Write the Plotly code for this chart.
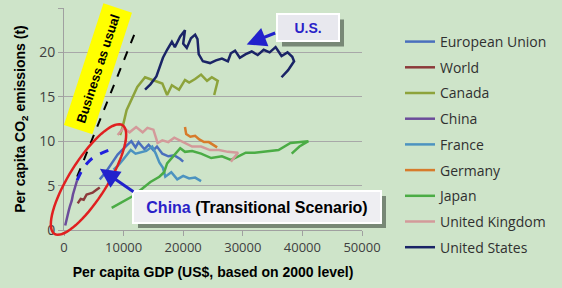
import plotly.graph_objects as go
import math

# ---------------- data ----------------
eu_x = [6000, 7000, 8000, 9000, 10500, 11300, 12000, 12500, 13500, 14200, 15000, 15600, 16500, 17500, 18500, 19500, 20000]
eu_y = [5.7, 6.5, 7.5, 8.5, 9.5, 10.0, 9.3, 9.9, 9.1, 9.6, 9.0, 9.4, 8.6, 8.3, 8.4, 8.0, 7.7]

world_x = [2300, 2800, 3300, 3800, 4300, 4800, 5400, 6000]
world_y = [3.0, 3.5, 3.4, 4.0, 4.1, 4.2, 4.5, 4.8]

canada_x = [9400, 9800, 10500, 11500, 12300, 13600, 14800, 15600, 16500, 17300, 18100, 19300, 20300, 21000, 22000, 23000, 24000, 24800, 25800, 25200]
canada_y = [10.7, 11.5, 13.5, 15.0, 16.1, 17.2, 16.9, 16.7, 16.5, 15.2, 16.3, 15.8, 16.9, 16.6, 17.0, 17.5, 16.8, 17.2, 16.8, 15.2]

china_x = [200, 500, 800, 1000, 1300, 1500, 1800, 2200]
china_y = [0.5, 1.5, 2.2, 2.7, 3.3, 4.0, 4.7, 5.6]

france_x = [8300, 9000, 10000, 11200, 12000, 13000, 13800, 14800, 15400, 16000, 16600, 17000, 18000, 19000, 20000, 21000, 22000, 23000]
france_y = [6.8, 7.2, 8.0, 9.0, 8.6, 8.8, 8.9, 9.4, 8.6, 7.6, 7.0, 6.0, 6.5, 5.7, 6.1, 5.8, 5.9, 5.5]

germany_x = [20300, 20500, 21200, 22000, 22700, 23500, 24300, 25000, 25700]
germany_y = [11.6, 10.8, 10.5, 10.6, 10.2, 9.9, 9.9, 9.6, 9.3]

japan_x = [8000, 10000, 11500, 13000, 14500, 16000, 16800, 17300, 18300, 19500, 20300, 21500, 23000, 24700, 26500, 28000, 29000, 30500, 32000, 34500, 36000, 38000, 40500, 41000, 39500, 38200]
japan_y = [2.5, 3.2, 3.8, 4.6, 5.4, 6.0, 6.5, 7.5, 8.3, 9.2, 8.8, 8.9, 8.6, 8.1, 8.3, 7.9, 8.2, 8.7, 8.7, 8.9, 9.0, 9.8, 9.9, 10.0, 9.4, 8.6]

uk_x = [9000, 10000, 11000, 12100, 13200, 14000, 15000, 15700, 16500, 17500, 18500, 20000, 21500, 23000, 24500, 26000, 27500, 29200, 28000]
uk_y = [10.7, 11.5, 11.0, 11.6, 11.0, 11.5, 11.3, 9.8, 10.1, 9.9, 10.4, 9.9, 9.4, 9.4, 9.0, 9.0, 8.8, 8.7, 7.7]

us_x = [13600, 14500, 15500, 16600, 17300, 18100, 18600, 19500, 20300, 20000, 20600, 21300, 22000, 22400, 22600, 23300, 24500, 25500, 26500, 27500, 28000, 28700, 29500, 30500, 31500, 32500, 33500, 34500, 35500, 36500, 37500, 38300, 38600, 37600, 36500]
us_y = [15.8, 16.4, 17.3, 19.4, 20.3, 21.2, 20.6, 21.8, 22.5, 21.0, 20.5, 21.6, 22.0, 21.5, 19.8, 19.0, 18.8, 19.1, 19.3, 19.0, 19.9, 20.2, 19.4, 19.8, 20.1, 19.7, 20.3, 20.0, 20.6, 19.6, 20.0, 19.5, 19.0, 18.0, 17.2]

scen_x = [2200, 3000, 4000, 5000, 6500, 8000]
scen_y = [5.6, 6.7, 7.6, 8.2, 8.7, 9.1]

bau_x = [2200, 11900]
bau_y = [6.0, 22.2]

x_ticks = [0, 10000, 20000, 30000, 40000, 50000]
x_tick_labels = ["0", "10000", "20000", "30000", "40000", "50000"]
y_ticks = [0, 5, 10, 15, 20, 25]

series = [
    ("European Union", eu_x, eu_y, "#4a6fbd"),
    ("World", world_x, world_y, "#8c3a3a"),
    ("Canada", canada_x, canada_y, "#8da33b"),
    ("China", china_x, china_y, "#6b4c9a"),
    ("France", france_x, france_y, "#4c93c0"),
    ("Germany", germany_x, germany_y, "#d77b2b"),
    ("Japan", japan_x, japan_y, "#4bac45"),
    ("United Kingdom", uk_x, uk_y, "#d39a9a"),
    ("United States", us_x, us_y, "#1a2466"),
]

BG = "#cee4c9"
fig = go.Figure()

fig.add_trace(go.Scatter(x=bau_x, y=bau_y, mode="lines", showlegend=False,
                         line=dict(color="black", width=2, dash="dash")))

for i, (name, xs, ys, col) in enumerate(series):
    fig.add_trace(go.Scatter(x=xs, y=ys, mode="lines", name=name, legendgroup=f"g{i}",
                             line=dict(color=col, width=2.5)))

fig.add_trace(go.Scatter(x=scen_x, y=scen_y, mode="lines", showlegend=False,
                         line=dict(color="#2020dd", width=3, dash="dash"), line_shape="spline"))

# ---- pixel -> paper helper ----
L, R, T, B = 64, 362, 8, 230
def px2paper(px, py):
    return (px - L) / (R - L), (B - py) / (B - T)

# ---- red ellipse ----
cx, cy, a, b = 88.5, 179.5, 64, 19
ux, uy = 0.532, -0.849
nx, ny = 0.849, 0.532
pts = []
for k in range(73):
    t = 2 * math.pi * k / 72
    px = cx + a * math.cos(t) * ux + b * math.sin(t) * nx
    py = cy + a * math.cos(t) * uy + b * math.sin(t) * ny
    pts.append(px2paper(px, py))
path = "M " + " L ".join(f"{p[0]:.4f},{p[1]:.4f}" for p in pts) + " Z"
fig.add_shape(type="path", path=path, xref="paper", yref="paper",
              line=dict(color="#e02020", width=2.5), layer="above")

# ---- drop shadows for callout boxes ----
def shadow(cxp, cyp, w, h, off=5):
    x0, y0 = px2paper(cxp - w / 2 + off, cyp + h / 2 + off)
    x1, y1 = px2paper(cxp + w / 2 + off, cyp - h / 2 + off)
    fig.add_shape(type="rect", xref="paper", yref="paper", x0=x0, y0=y0, x1=x1, y1=y1,
                  fillcolor="rgba(50,60,50,0.55)", line=dict(width=0), layer="above")
shadow(308, 28, 62, 27)
shadow(257, 207, 248, 32)

annos = []
annos.append(dict(x=5700, y=18.2, text="<b>Business as usual</b>", textangle=-72, showarrow=False,
                  bgcolor="#ffff00", font=dict(family="Arial", size=13, color="black"), borderpad=7))
annos.append(dict(x=40870, y=22.8, text="<b>U.S.</b>", showarrow=False, width=58, height=23,
                  bgcolor="#e8e8ee", bordercolor="white", borderwidth=2,
                  font=dict(family="Arial", size=14, color="#2a1fc8")))
annos.append(dict(x=32330, y=2.6,
                  text="<b><span style='color:#2a1fc8'>China</span> (Transitional Scenario)</b>",
                  showarrow=False, width=244, height=28,
                  bgcolor="#eeeef2", bordercolor="white", borderwidth=2,
                  font=dict(family="Arial", size=16, color="black")))
annos.append(dict(x=30650, y=20.9, ax=30, ay=-12, text="", showarrow=True, arrowhead=2,
                  arrowsize=1.3, arrowwidth=3, arrowcolor="#2222cc"))
annos.append(dict(x=6030, y=6.9, ax=35, ay=24, text="", showarrow=True, arrowhead=2,
                  arrowsize=1.3, arrowwidth=3, arrowcolor="#2222cc"))

fig.update_layout(
    width=562, height=288,
    margin=dict(l=L, r=562 - R, t=T, b=288 - B),
    paper_bgcolor=BG, plot_bgcolor=BG,
    font=dict(family="Open Sans", color="#404040"),
    annotations=annos,
    legend=dict(x=(400 - L) / (R - L), y=(B - 26) / (B - T), xanchor="left", yanchor="top",
                bgcolor="rgba(0,0,0,0)", font=dict(family="Open Sans", size=14, color="#303030"),
                tracegroupgap=4.5, itemwidth=30, maxheight=284),
    xaxis=dict(range=[0, 50000], tickvals=x_ticks, ticktext=x_tick_labels, showgrid=False, zeroline=False,
               showline=True, linecolor="#a0a0a0", ticks="outside", ticklen=5, tickcolor="#a0a0a0",
               tickfont=dict(size=13, color="#404040"),
               title=dict(text="<b>Per capita GDP (US$, based on 2000 level)</b>",
                          font=dict(family="Arial", size=14, color="black"), standoff=12)),
    yaxis=dict(range=[0, 25], tickvals=y_ticks, showgrid=True, gridcolor="#a8a8a8", zeroline=False,
               showline=True, linecolor="#a0a0a0", ticks="outside", ticklen=5, tickcolor="#a0a0a0",
               tickfont=dict(size=14, color="#404040"),
               title=dict(text="<b>Per capita CO<sub>2</sub> emissions (t)</b>",
                          font=dict(family="Arial", size=14, color="black"), standoff=10)),
)

fig.write_html("out.html")
